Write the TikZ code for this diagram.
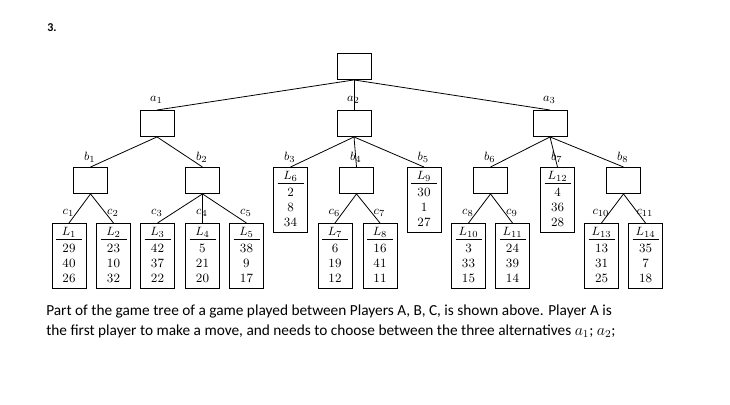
\documentclass[tikz,border=0pt]{standalone}
\usepackage{fontspec}
\setmainfont{Carlito}
\newfontfamily\lmr{Latin Modern Roman}
\usepackage{amsmath}
\usetikzlibrary{calc}
\tikzset{
	box/.style={draw, line width=0.7pt, minimum width=25.5pt, minimum height=19.5pt, inner sep=0pt, anchor=north},
	leaf/.style={draw, line width=0.7pt, minimum width=25.5pt, minimum height=48.75pt, inner sep=0pt, anchor=north},
	num/.style={font=\lmr\fontsize{9.5}{11}\selectfont, inner sep=0pt},
	lab/.style={font=\lmr\fontsize{9.5}{11}\selectfont, inner sep=0pt, yshift=7.5pt, xshift=-0.5pt},
	edge/.style={line width=0.6pt}
}
% leaf box: name, x, top, index, three payoffs
\newcommand\leafbox[7]{
	\node[leaf] (#1) at (#2,#3) {};
	\node[num] at ($(#1.north)+(0,9)$) {$L_{#4}$};
	\draw[line width=0.5pt] ($(#1.north)+(-13,16)$) -- ($(#1.north)+(13,16)$);
	\node[num] at ($(#1.north)+(0,25)$) {#5};
	\node[num] at ($(#1.north)+(0,40)$) {#6};
	\node[num] at ($(#1.north)+(0,55)$) {#7};
}
\begin{document}
\begin{tikzpicture}[x=0.75pt,y=-0.75pt]
	\useasboundingbox (0,0) rectangle (730,404);
	\node[font=\bfseries\small] at (52,28) {3.};
	
	% decision nodes
	\node[box] (root) at (354,53) {};
	\node[box] (A1) at (157,110) {};
	\node[box] (A2) at (354,110) {};
	\node[box] (A3) at (550,110) {};
	\node[box] (B1) at (90.5,167) {};
	\node[box] (B2) at (202.5,167) {};
	\node[box] (B4) at (356.5,167) {};
	\node[box] (B6) at (490.5,167) {};
	\node[box] (B8) at (623.5,167) {};
	
	% leaves
	\leafbox{L1}{69}{223}{1}{29}{40}{26}
	\leafbox{L2}{113.5}{223}{2}{23}{10}{32}
	\leafbox{L3}{157.5}{223}{3}{42}{37}{22}
	\leafbox{L4}{202.5}{223}{4}{5}{21}{20}
	\leafbox{L5}{246.5}{223}{5}{38}{9}{17}
	\leafbox{L6}{290.5}{167}{6}{2}{8}{34}
	\leafbox{L7}{335}{223}{7}{6}{19}{12}
	\leafbox{L8}{380}{223}{8}{16}{41}{11}
	\leafbox{L9}{424}{167}{9}{30}{1}{27}
	\leafbox{L10}{468.5}{223}{10}{3}{33}{15}
	\leafbox{L11}{512.5}{223}{11}{24}{39}{14}
	\leafbox{L12}{557.5}{167}{12}{4}{36}{28}
	\leafbox{L13}{601.5}{223}{13}{13}{31}{25}
	\leafbox{L14}{645.5}{223}{14}{35}{7}{18}
	
	% moves
	\draw[edge] (root.south) -- (A1.north) node[lab] {$a_1$};
	\draw[edge] (root.south) -- (A2.north) node[lab] {$a_2$};
	\draw[edge] (root.south) -- (A3.north) node[lab] {$a_3$};
	\draw[edge] (A1.south) -- (B1.north) node[lab] {$b_1$};
	\draw[edge] (A1.south) -- (B2.north) node[lab] {$b_2$};
	\draw[edge] (A2.south) -- (L6.north) node[lab] {$b_3$};
	\draw[edge] (A2.south) -- (B4.north) node[lab] {$b_4$};
	\draw[edge] (A2.south) -- (L9.north) node[lab] {$b_5$};
	\draw[edge] (A3.south) -- (B6.north) node[lab] {$b_6$};
	\draw[edge] (A3.south) -- (L12.north) node[lab] {$b_7$};
	\draw[edge] (A3.south) -- (B8.north) node[lab] {$b_8$};
	\draw[edge] (B1.south) -- (L1.north) node[lab] {$c_1$};
	\draw[edge] (B1.south) -- (L2.north) node[lab] {$c_2$};
	\draw[edge] (B2.south) -- (L3.north) node[lab] {$c_3$};
	\draw[edge] (B2.south) -- (L4.north) node[lab] {$c_4$};
	\draw[edge] (B2.south) -- (L5.north) node[lab] {$c_5$};
	\draw[edge] (B4.south) -- (L7.north) node[lab] {$c_6$};
	\draw[edge] (B4.south) -- (L8.north) node[lab] {$c_7$};
	\draw[edge] (B6.south) -- (L10.north) node[lab] {$c_8$};
	\draw[edge] (B6.south) -- (L11.north) node[lab] {$c_9$};
	\draw[edge] (B8.south) -- (L13.north) node[lab] {$c_{10}$};
	\draw[edge] (B8.south) -- (L14.north) node[lab] {$c_{11}$};
	
	% text below
	\node[anchor=west, font=\fontsize{11.5}{14}\selectfont, inner sep=0pt] (line1) at (46,311)
	{Part of the game tree of a game played between Players A, B, C, is shown above. Player A is};
	\node[anchor=west, font=\fontsize{11.5}{14}\selectfont, inner sep=0pt] (line2) at (46,331)
	{the first player to make a move, and needs to choose between the three alternatives $a_1$; $a_2$;};
\end{tikzpicture}
\end{document}
